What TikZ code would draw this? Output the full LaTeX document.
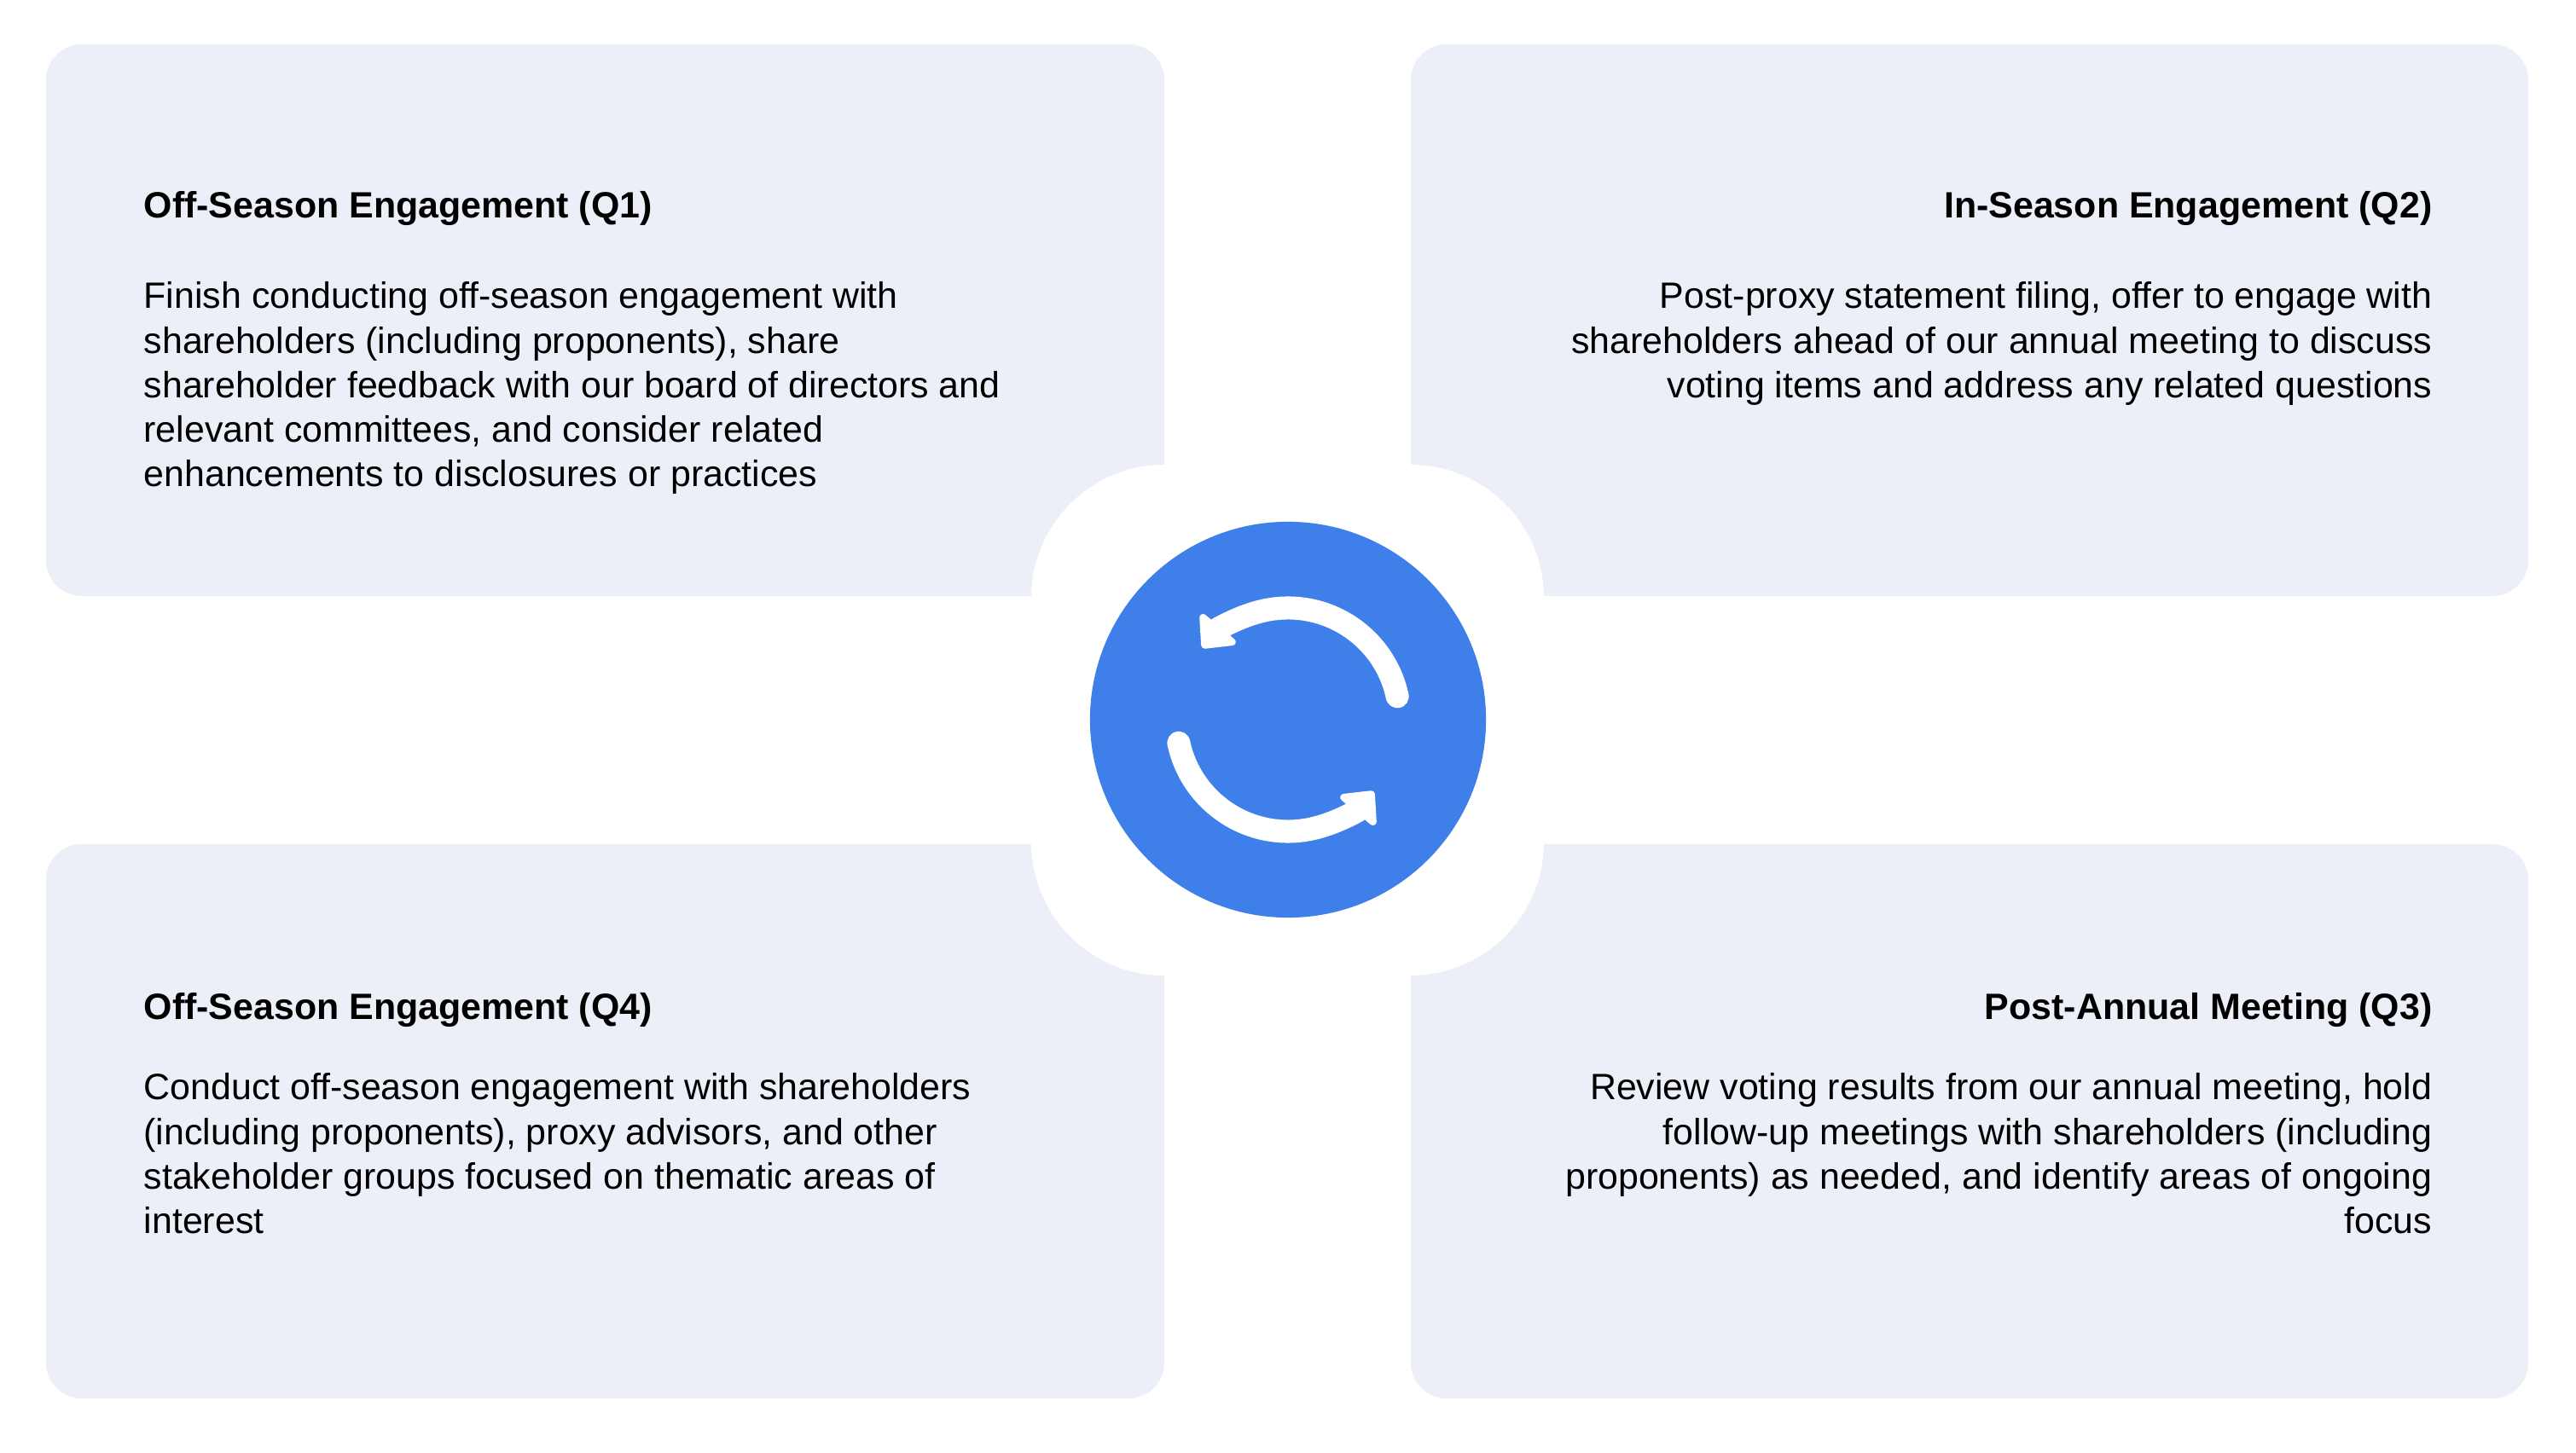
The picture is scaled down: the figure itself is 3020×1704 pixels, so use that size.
\documentclass[tikz,border=0pt]{standalone}
\usepackage{fontspec}
\setmainfont{Liberation Sans}
\usetikzlibrary{arrows.meta}
\definecolor{boxc}{HTML}{ECEEF8}
\definecolor{bluec}{HTML}{3F7FE9}
\begin{document}
\begin{tikzpicture}[x=0.01cm,y=-0.01cm,
  box/.style={fill=boxc,rounded corners=0.42cm},
  ttl/.style={inner sep=0,font=\fontsize{12.2}{14.8}\selectfont\bfseries},
  bdy/.style={inner sep=0,font=\fontsize{12.2}{14.8}\selectfont},
  arc/.style={white,line width=0.27cm,line cap=round,-{Triangle[round,length=0.34cm,width=0.62cm]}}]
\useasboundingbox (0,0) rectangle (3020,1704);
\fill[white] (0,0) rectangle (3020,1704);
\fill[box] (54,52) rectangle (1365,699);
\fill[box] (1654,52) rectangle (2964,699);
\fill[box] (54,990) rectangle (1365,1640);
\fill[box] (1654,990) rectangle (2964,1640);
\fill[white,rounded corners=1.56cm] (1209,545) rectangle (1810,1144);
\node[circle,fill=bluec,minimum size=4.64cm,inner sep=0] (c) at (1510,844) {};
\draw[arc] (c.center) ++(168:131) arc[start angle=168,end angle=40,radius=131];
\draw[arc] (c.center) ++(-12:131) arc[start angle=-12,end angle=-140,radius=131];
\node[ttl,anchor=base west] (t1) at (168,256) {Off-Season Engagement (Q1)};
\node[bdy,anchor=base west] (b1) at (168,362) {\parbox[t]{12cm}{\raggedright Finish conducting off-season engagement with\\shareholders (including proponents), share\\shareholder feedback with our board of directors and\\relevant committees, and consider related\\enhancements to disclosures or practices}};
\node[ttl,anchor=base east] (t2) at (2852,256) {In-Season Engagement (Q2)};
\node[bdy,anchor=base east] (b2) at (2852,362) {\parbox[t]{12cm}{\raggedleft Post-proxy statement filing, offer to engage with\\shareholders ahead of our annual meeting to discuss\\voting items and address any related questions}};
\node[ttl,anchor=base west] (t4) at (168,1196) {Off-Season Engagement (Q4)};
\node[bdy,anchor=base west] (b4) at (168,1290) {\parbox[t]{12cm}{\raggedright Conduct off-season engagement with shareholders\\(including proponents), proxy advisors, and other\\stakeholder groups focused on thematic areas of\\interest}};
\node[ttl,anchor=base east] (t3) at (2852,1196) {Post-Annual Meeting (Q3)};
\node[bdy,anchor=base east] (b3) at (2852,1290) {\parbox[t]{12cm}{\raggedleft Review voting results from our annual meeting, hold\\follow-up meetings with shareholders (including\\proponents) as needed, and identify areas of ongoing\\focus}};
\end{tikzpicture}
\end{document}
